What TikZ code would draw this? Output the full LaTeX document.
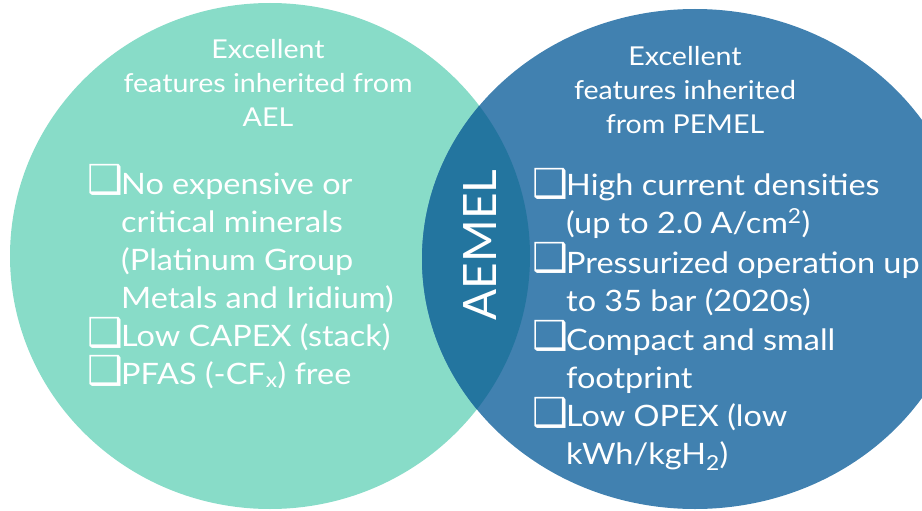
\documentclass[tikz,border=0pt]{standalone}
\usepackage{fontspec}
\setmainfont{Lato}[FakeStretch=1.1]
\newfontfamily\boxfont{DejaVu Sans}
\newfontfamily\labelfont{Lato}
\usetikzlibrary{positioning}

\definecolor{aelteal}{HTML}{88DCC8}
\definecolor{pemblue}{HTML}{4181B0}
\definecolor{aemblue}{HTML}{23759F}

\newcommand{\chkbox}{{\boxfont\fontsize{40}{40}\selectfont ❑}}

\begin{document}
\begin{tikzpicture}[
  x=1pt, y=-1pt,
  head/.style={text=white, align=center, inner sep=0pt, anchor=base,
    font=\fontsize{26}{34}\selectfont},
  item/.style={text=white, align=left, inner sep=0pt, anchor=base west,
    font=\fontsize{29.5}{38}\selectfont},
  bullet/.style={text=white, inner sep=0pt, anchor=base west},
]
  \useasboundingbox (0,0) rectangle (922,511);

  % Circles
  \fill[aelteal] (270,256) ellipse [x radius=260pt, y radius=253pt];
  \fill[pemblue] (695,259) ellipse [x radius=273pt, y radius=250pt];
  \begin{scope}
    \clip (270,256) ellipse [x radius=260pt, y radius=253pt];
    \fill[aemblue] (695,259) ellipse [x radius=273pt, y radius=250pt];
  \end{scope}

  % Headings (base = last line)
  \node[head] (aelhead) at (268,126) {Excellent\\features inherited from\\AEL};
  \node[head] (pemhead) at (685,133) {Excellent\\features inherited\\from PEMEL};

  % Left list
  \node[bullet] (lb1) at (87,193) {\chkbox};
  \node[item] (li1) at (121,308) {No expensive or\\critical minerals\\(Platinum Group\\Metals and Iridium)};
  \node[bullet] (lb2) at (87,346) {\chkbox};
  \node[item] (li2) at (121,346) {Low CAPEX (stack)};
  \node[bullet] (lb3) at (87,384) {\chkbox};
  \node[item] (li3) at (121,384) {PFAS (-CF\textsubscript{x}) free};

  % Right list
  \node[bullet] (rb1) at (532,197) {\chkbox};
  \node[item] (ri1) at (566,233) {High current densities\\(up to 2.0 A/cm\textsuperscript{2})};
  \node[bullet] (rb2) at (532,271) {\chkbox};
  \node[item] (ri2) at (566,311) {Pressurized operation up\\to 35 bar (2020s)};
  \node[bullet] (rb3) at (532,349) {\chkbox};
  \node[item] (ri3) at (566,388) {Compact and small\\footprint};
  \node[bullet] (rb4) at (532,426) {\chkbox};
  \node[item] (ri4) at (566,464) {Low OPEX (low\\kWh/kgH\textsubscript{2})};

  % Overlap label
  \node[text=white, rotate=90, inner sep=0pt, font=\labelfont\fontsize{46}{46}\selectfont]
    (aemel) at (480,245) {AEMEL};
\end{tikzpicture}
\end{document}
